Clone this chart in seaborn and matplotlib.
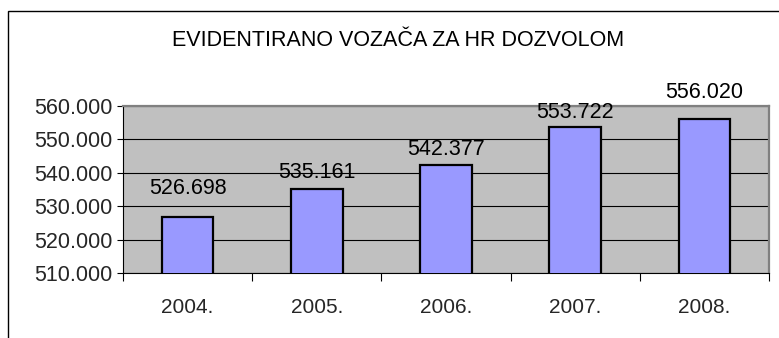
import matplotlib
matplotlib.use("Agg")
import matplotlib.pyplot as plt
from matplotlib.patches import Rectangle
from matplotlib.ticker import FixedLocator, FuncFormatter
import seaborn as sns
import pandas as pd

# Registered drivers with a Croatian licence, per year
years = ["2004.", "2005.", "2006.", "2007.", "2008."]
drivers = [526698, 535161, 542377, 553722, 556020]
title = "EVIDENTIRANO VOZAČA ZA HR DOZVOLOM"
y_ticks = [510000, 520000, 530000, 540000, 550000, 560000]

# distance (px) between each bar top and the baseline of its value label
label_gap = [23, 11, 10, 9, 21]

df = pd.DataFrame({"year": years, "drivers": drivers})

sns.set_theme(style="white")
plt.rcParams["font.family"] = ["Liberation Sans", "DejaVu Sans"]

W, H = 779, 338
fig = plt.figure(figsize=(W / 100, H / 100), dpi=100)
fig.patch.set_facecolor("white")

# outer chart frame (left and top edges visible)
fig.add_artist(Rectangle((8 / W, -0.1), 1.2, (H - 11) / H + 0.1,
                         transform=fig.transFigure, fill=False,
                         edgecolor="black", linewidth=1.0))

ax = fig.add_axes([123 / W, (H - 273) / H, (769 - 123) / W, (273 - 106) / H])
ax.set_facecolor("#C0C0C0")

sns.barplot(data=df, x="year", y="drivers", ax=ax, color="#9999FF",
            saturation=1, width=0.4, edgecolor="black", linewidth=1.6,
            zorder=3)

ax.set_ylim(510000, 560000)
ax.set_xlim(-0.5, len(years) - 0.5)
ax.yaxis.set_major_locator(FixedLocator(y_ticks))
ax.yaxis.set_major_formatter(
    FuncFormatter(lambda v, _: f"{int(v):,}".replace(",", ".")))
ax.grid(axis="y", color="black", linewidth=0.8, zorder=0)
ax.set_axisbelow(True)

# category boundaries carry the ticks, centres carry the labels
ax.set_xticks([i - 0.5 for i in range(len(years) + 1)])
ax.set_xticklabels([])
ax.set_xticks(range(len(years)), minor=True)
ax.set_xticklabels(years, minor=True)
ax.tick_params(axis="x", which="major", length=6, width=0.8,
               color="black", direction="out", bottom=True)
ax.tick_params(axis="x", which="minor", length=0, pad=18, labelsize=15)
ax.tick_params(axis="y", length=4.5, width=0.8, color="black",
               direction="out", left=True, pad=3, labelsize=15.5)

ax.set_xlabel("")
ax.set_ylabel("")

for side in ("left", "bottom"):
    ax.spines[side].set_color("black")
    ax.spines[side].set_linewidth(0.8)
for side in ("top", "right"):
    ax.spines[side].set_color("#808080")
    ax.spines[side].set_linewidth(1.6)

for i, (v, gap) in enumerate(zip(drivers, label_gap)):
    ax.annotate(f"{v:,}".replace(",", "."), (i, v),
                xytext=(0, gap), textcoords="offset pixels",
                ha="center", va="baseline", fontsize=15.5, color="black",
                annotation_clip=False, zorder=5)

fig.text(398.5 / W, 1 - 40 / H, title, ha="center", va="center",
         fontsize=15.5, color="black")

fig.savefig("out.png", dpi=100)
